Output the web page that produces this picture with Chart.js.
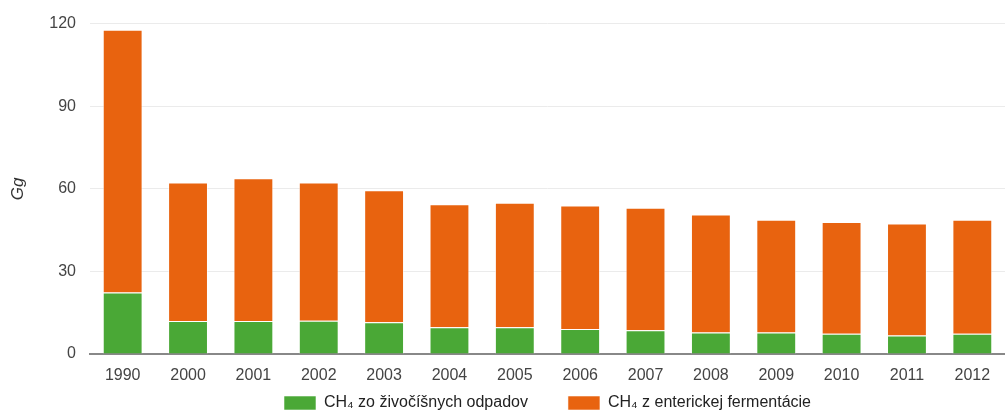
<!DOCTYPE html>
<html>
<head>
<meta charset="utf-8">
<script src="https://cdn.jsdelivr.net/npm/chart.js@4"></script>
<style>
    html, body { margin: 0; padding: 0; background: #fff; }
    #wrap { width: 1005px; height: 414px; }
</style>
</head>
<body>
<div id="wrap"><canvas id="myChart"></canvas></div>
<script>
const years = ['1990', '2000', '2001', '2002', '2003', '2004', '2005', '2006', '2007', '2008', '2009', '2010', '2011', '2012'];
const wasteValues = [22.3, 12.0, 12.0, 12.1, 11.5, 9.7, 9.7, 9.1, 8.6, 7.8, 7.8, 7.4, 6.7, 7.4];
const entericValues = [95.5, 50.3, 51.8, 50.2, 48.0, 44.7, 45.2, 44.8, 44.5, 42.9, 41.0, 40.5, 40.7, 41.4];
const yTicks = [0, 30, 60, 90, 120];

Chart.defaults.font.family = '"Liberation Sans", Arial, sans-serif';
Chart.defaults.font.size = 16;
Chart.defaults.color = '#444';

// x axis is squeezed to 1px so the legend sits right under it;
// stretch its box back down so the tick labels are not clipped away
const xLabelRoom = {
    id: 'xLabelRoom',
    afterLayout: chart => { chart.scales.x.bottom = chart.height; }
};

const ctx = document.getElementById('myChart');
const myChart = new Chart(ctx, { // eslint-disable-line
    type: 'bar',
    data: {
        labels: years,
        datasets: [{
            label: 'CH\u2084 zo živočíšnych odpadov',
            data: wasteValues,
            backgroundColor: '#4aa836',
            borderColor: 'rgba(255, 255, 255, 0.55)',
            borderWidth: 1,
            barPercentage: 0.61,
            categoryPercentage: 1
        },
        {
            label: 'CH\u2084 z enterickej fermentácie',
            data: entericValues,
            backgroundColor: '#e8630f',
            borderColor: 'rgba(255, 255, 255, 0.55)',
            borderWidth: 1,
            barPercentage: 0.61,
            categoryPercentage: 1
        }]
    },
    plugins: [xLabelRoom],
    options: {
        responsive: true,
        maintainAspectRatio: false,
        animation: false,
        layout: { padding: { top: 9, right: 0, left: 0, bottom: 0 } },
        plugins: {
            tooltip: { enabled: false },
            legend: {
                position: 'bottom',
                fullSize: false,
                maxHeight: 59,
                labels: {
                    boxWidth: 32,
                    boxHeight: 14,
                    padding: 40,
                    color: '#222',
                    font: { size: 16 }
                }
            }
        },
        scales: {
            x: {
                stacked: true,
                grid: { display: false },
                border: { color: '#888', width: 2 },
                ticks: { padding: 4, color: '#444' },
                afterFit: scale => { scale.height = 1; }
            },
            y: {
                stacked: true,
                min: 0,
                max: 120,
                afterBuildTicks: scale => { scale.ticks = yTicks.map(v => ({ value: v })); },
                ticks: { padding: 14, color: '#444' },
                grid: { color: '#ebebeb', drawTicks: false },
                border: { display: false },
                title: {
                    display: true,
                    text: 'Gg',
                    font: { style: 'italic', size: 17 },
                    color: '#333',
                    padding: { top: 8, bottom: 4 }
                },
                afterFit: scale => { scale.width = 90; }
            }
        }
    }
});
</script>
</body>
</html>
